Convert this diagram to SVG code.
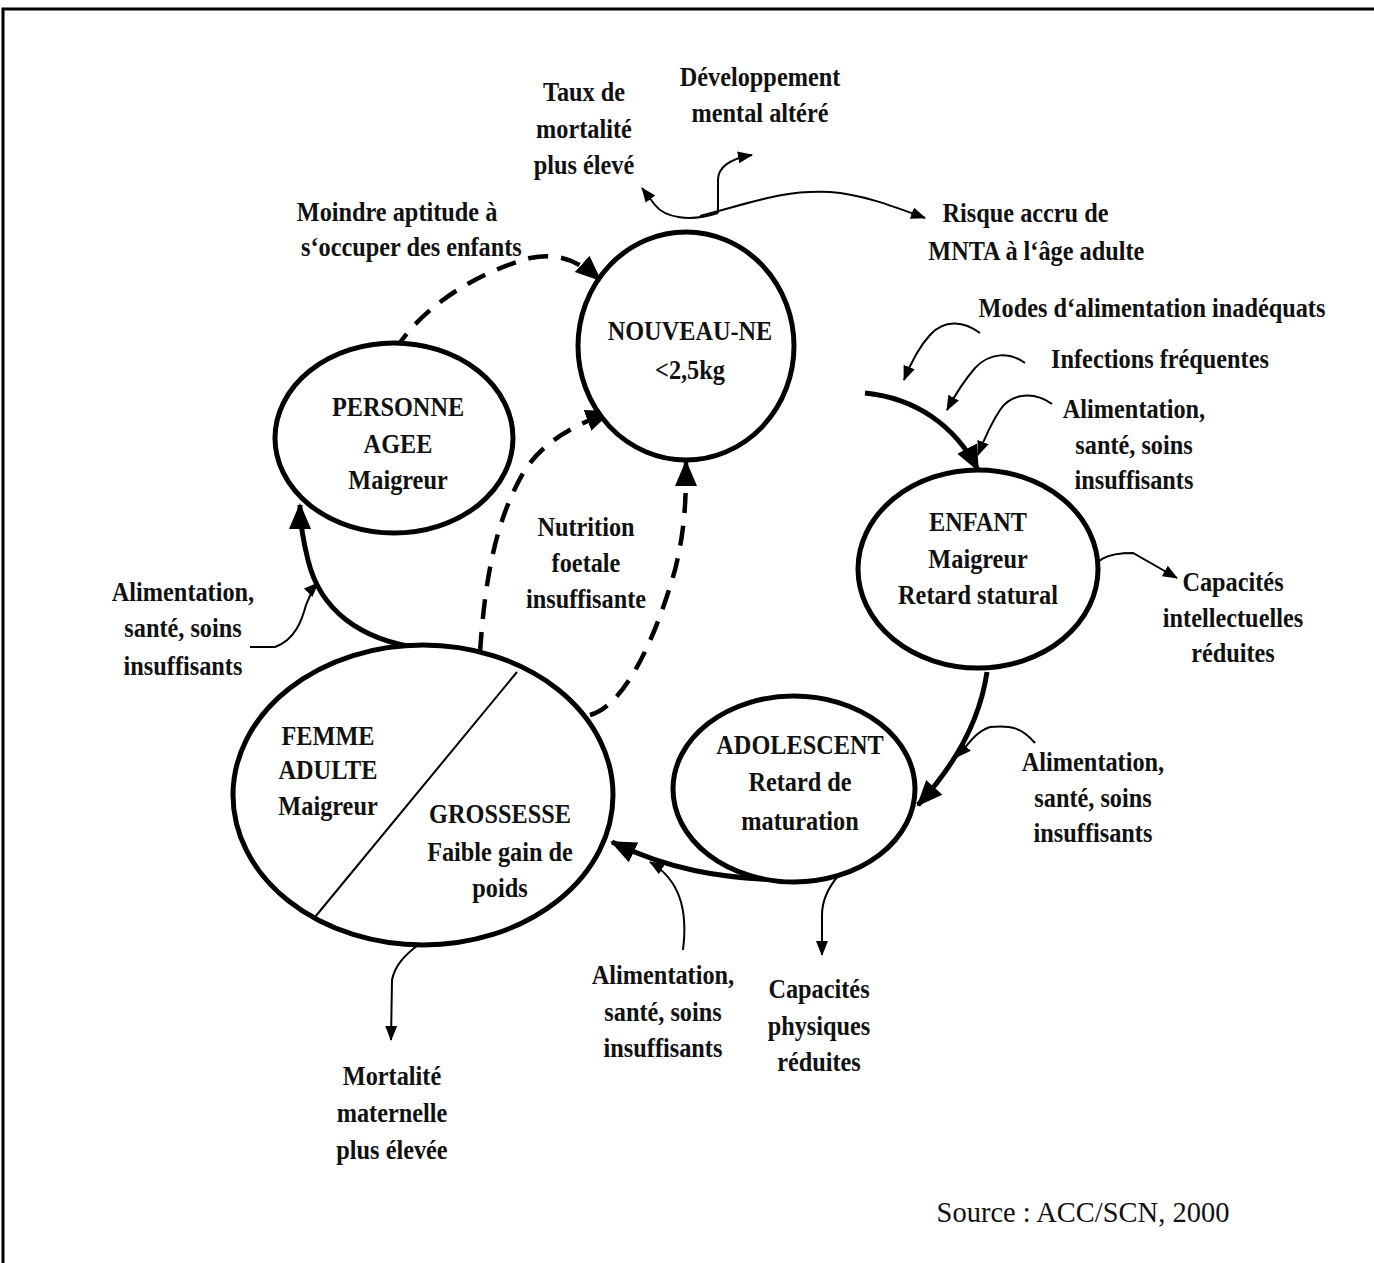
<svg xmlns="http://www.w3.org/2000/svg" width="1374" height="1263" viewBox="0 0 1374 1263">
<style>
.lbl{font-family:"Liberation Serif","Times New Roman",serif;font-weight:bold;font-size:27px;fill:#111;text-anchor:middle}
.src{font-family:"Liberation Serif","Times New Roman",serif;font-size:30px;fill:#111;text-anchor:middle}
.node{fill:#fff;stroke:#000;stroke-width:5}
.thick{fill:none;stroke:#000;stroke-width:5}
.thin{fill:none;stroke:#000;stroke-width:2}
.dash{fill:none;stroke:#000;stroke-width:4.5;stroke-dasharray:20 13}
</style>
<defs>
<marker id="big" markerUnits="userSpaceOnUse" markerWidth="28" markerHeight="24" refX="24" refY="11" orient="auto" viewBox="0 0 28 22">
<path d="M0,0 L26,11 L0,22 Z" fill="#000"/>
</marker>
<marker id="small" markerUnits="userSpaceOnUse" markerWidth="16" markerHeight="14" refX="14" refY="6" orient="auto" viewBox="0 0 16 12">
<path d="M0,0 L15,6 L0,12 Z" fill="#000"/>
</marker>
</defs>
<rect width="1374" height="1263" fill="#fff"/>
<path d="M3,1263 L3,9 L1374,9" fill="none" stroke="#000" stroke-width="3"/>

<g id="connectors">
<path class="dash" d="M395,350 C420,310 470,275 530,258 C560,252 580,262 600,280" marker-end="url(#big)"/>
<path class="dash" d="M480,652 C485,580 495,520 525,470 C545,440 575,425 610,412" marker-end="url(#big)"/>
<path class="dash" d="M590,715 C625,705 655,640 675,570 C685,530 686,500 686,462" marker-end="url(#big)"/>
<path class="thick" d="M865,393 C915,398 955,425 978,470" marker-end="url(#big)"/>
<path class="thick" d="M987,672 C980,720 955,765 918,805" marker-end="url(#big)"/>
<path class="thick" d="M782,880 C720,878 670,870 612,842" marker-end="url(#big)"/>
<path class="thick" d="M420,648 C360,640 320,610 308,560 C303,540 300,525 300,505" marker-end="url(#big)"/>
<path class="thin" d="M980,333 C965,322 945,318 930,335 C918,348 910,365 904,380" marker-end="url(#small)"/>
<path class="thin" d="M1025,363 C1010,352 990,352 975,368 C963,382 955,395 947,410" marker-end="url(#small)"/>
<path class="thin" d="M1052,404 C1035,392 1012,392 1000,410 C992,422 985,437 978,455" marker-end="url(#small)"/>
<path class="thin" d="M1088,577 C1095,560 1105,553 1133,553 L1177,578" marker-end="url(#small)"/>
<path class="thin" d="M1035,743 C1022,728 1012,725 990,727 C975,732 968,745 957,757" marker-end="url(#small)"/>
<path class="thin" d="M683,950 C688,910 680,880 650,862" marker-end="url(#small)"/>
<path class="thin" d="M838,876 C828,888 822,900 822,915 L822,955" marker-end="url(#small)"/>
<path class="thin" d="M250,647 L275,647 C295,640 302,620 306,605 C310,595 313,588 318,583" marker-end="url(#small)"/>
<path class="thin" d="M418,945 C405,955 395,965 392,980 L391,1040" marker-end="url(#small)"/>
<path class="thin" d="M718,213 C690,222 665,218 655,205 L642,188" marker-end="url(#small)"/>
<path class="thin" d="M700,216 C760,200 785,190 830,192 C860,194 890,205 925,218" marker-end="url(#small)"/>
<path class="thin" d="M718,213 L718,180 C718,165 735,158 752,155" marker-end="url(#small)"/>
</g>

<g id="n-nouveau">
<ellipse class="node" cx="686" cy="346" rx="108" ry="114"/>
<text class="lbl" transform="translate(690,0) scale(0.9,1)"><tspan x="0" y="340">NOUVEAU-NE</tspan><tspan x="0" y="379">&lt;2,5kg</tspan></text>
</g>
<g id="n-personne">
<ellipse class="node" cx="394" cy="438" rx="119" ry="95"/>
<text class="lbl" transform="translate(398,0) scale(0.9,1)"><tspan x="0" y="416">PERSONNE</tspan><tspan x="0" y="453">AGEE</tspan><tspan x="0" y="489">Maigreur</tspan></text>
</g>
<g id="n-enfant">
<ellipse class="node" cx="978" cy="569" rx="120" ry="99"/>
<text class="lbl" transform="translate(978,0) scale(0.9,1)"><tspan x="0" y="531">ENFANT</tspan><tspan x="0" y="568">Maigreur</tspan><tspan x="0" y="604">Retard statural</tspan></text>
</g>
<g id="n-adolescent">
<ellipse class="node" cx="794" cy="789" rx="121" ry="93"/>
<text class="lbl" transform="translate(800,0) scale(0.9,1)"><tspan x="0" y="754">ADOLESCENT</tspan><tspan x="0" y="791">Retard de</tspan><tspan x="0" y="830">maturation</tspan></text>
</g>
<g id="n-femme">
<ellipse class="node" cx="423" cy="795" rx="190" ry="150"/>
<line x1="517" y1="672" x2="315" y2="917" stroke="#000" stroke-width="2"/>
<text class="lbl" transform="translate(328,0) scale(0.9,1)"><tspan x="0" y="745">FEMME</tspan><tspan x="0" y="779">ADULTE</tspan><tspan x="0" y="815">Maigreur</tspan></text>
<text class="lbl" transform="translate(500,0) scale(0.9,1)"><tspan x="0" y="823">GROSSESSE</tspan><tspan x="0" y="861">Faible gain de</tspan><tspan x="0" y="897">poids</tspan></text>
</g>

<g id="labels">
<text class="lbl" transform="translate(760,0) scale(0.9,1)"><tspan x="0" y="86">Développement</tspan><tspan x="0" y="122">mental altéré</tspan></text>
<text class="lbl" transform="translate(584,0) scale(0.9,1)"><tspan x="0" y="101">Taux de</tspan><tspan x="0" y="138">mortalité</tspan><tspan x="0" y="174">plus élevé</tspan></text>
<text class="lbl" transform="translate(397,0) scale(0.9,1)"><tspan x="0" y="221">Moindre aptitude à</tspan><tspan x="16" y="256">s‘occuper des enfants</tspan></text>
<text class="lbl" transform="translate(1030,0) scale(0.9,1)"><tspan x="-5" y="222">Risque accru de</tspan><tspan x="7" y="260">MNTA à l‘âge adulte</tspan></text>
<text class="lbl" transform="translate(1152,0) scale(0.9,1)"><tspan x="0" y="317">Modes d‘alimentation inadéquats</tspan></text>
<text class="lbl" transform="translate(1160,0) scale(0.9,1)"><tspan x="0" y="368">Infections fréquentes</tspan></text>
<text class="lbl" transform="translate(1134,0) scale(0.9,1)"><tspan x="0" y="418">Alimentation,</tspan><tspan x="0" y="454">santé, soins</tspan><tspan x="0" y="489">insuffisants</tspan></text>
<text class="lbl" transform="translate(1233,0) scale(0.9,1)"><tspan x="0" y="591">Capacités</tspan><tspan x="0" y="627">intellectuelles</tspan><tspan x="0" y="662">réduites</tspan></text>
<text class="lbl" transform="translate(586,0) scale(0.9,1)"><tspan x="0" y="536">Nutrition</tspan><tspan x="0" y="572">foetale</tspan><tspan x="0" y="608">insuffisante</tspan></text>
<text class="lbl" transform="translate(183,0) scale(0.9,1)"><tspan x="0" y="601">Alimentation,</tspan><tspan x="0" y="637">santé, soins</tspan><tspan x="0" y="675">insuffisants</tspan></text>
<text class="lbl" transform="translate(1093,0) scale(0.9,1)"><tspan x="0" y="771">Alimentation,</tspan><tspan x="0" y="807">santé, soins</tspan><tspan x="0" y="842">insuffisants</tspan></text>
<text class="lbl" transform="translate(663,0) scale(0.9,1)"><tspan x="0" y="984">Alimentation,</tspan><tspan x="0" y="1021">santé, soins</tspan><tspan x="0" y="1057">insuffisants</tspan></text>
<text class="lbl" transform="translate(819,0) scale(0.9,1)"><tspan x="0" y="998">Capacités</tspan><tspan x="0" y="1035">physiques</tspan><tspan x="0" y="1071">réduites</tspan></text>
<text class="lbl" transform="translate(392,0) scale(0.9,1)"><tspan x="0" y="1085">Mortalité</tspan><tspan x="0" y="1122">maternelle</tspan><tspan x="0" y="1159">plus élevée</tspan></text>
<text class="src" transform="translate(1083,0) scale(0.95,1)"><tspan x="0" y="1222">Source : ACC/SCN, 2000</tspan></text>
</g>
</svg>
